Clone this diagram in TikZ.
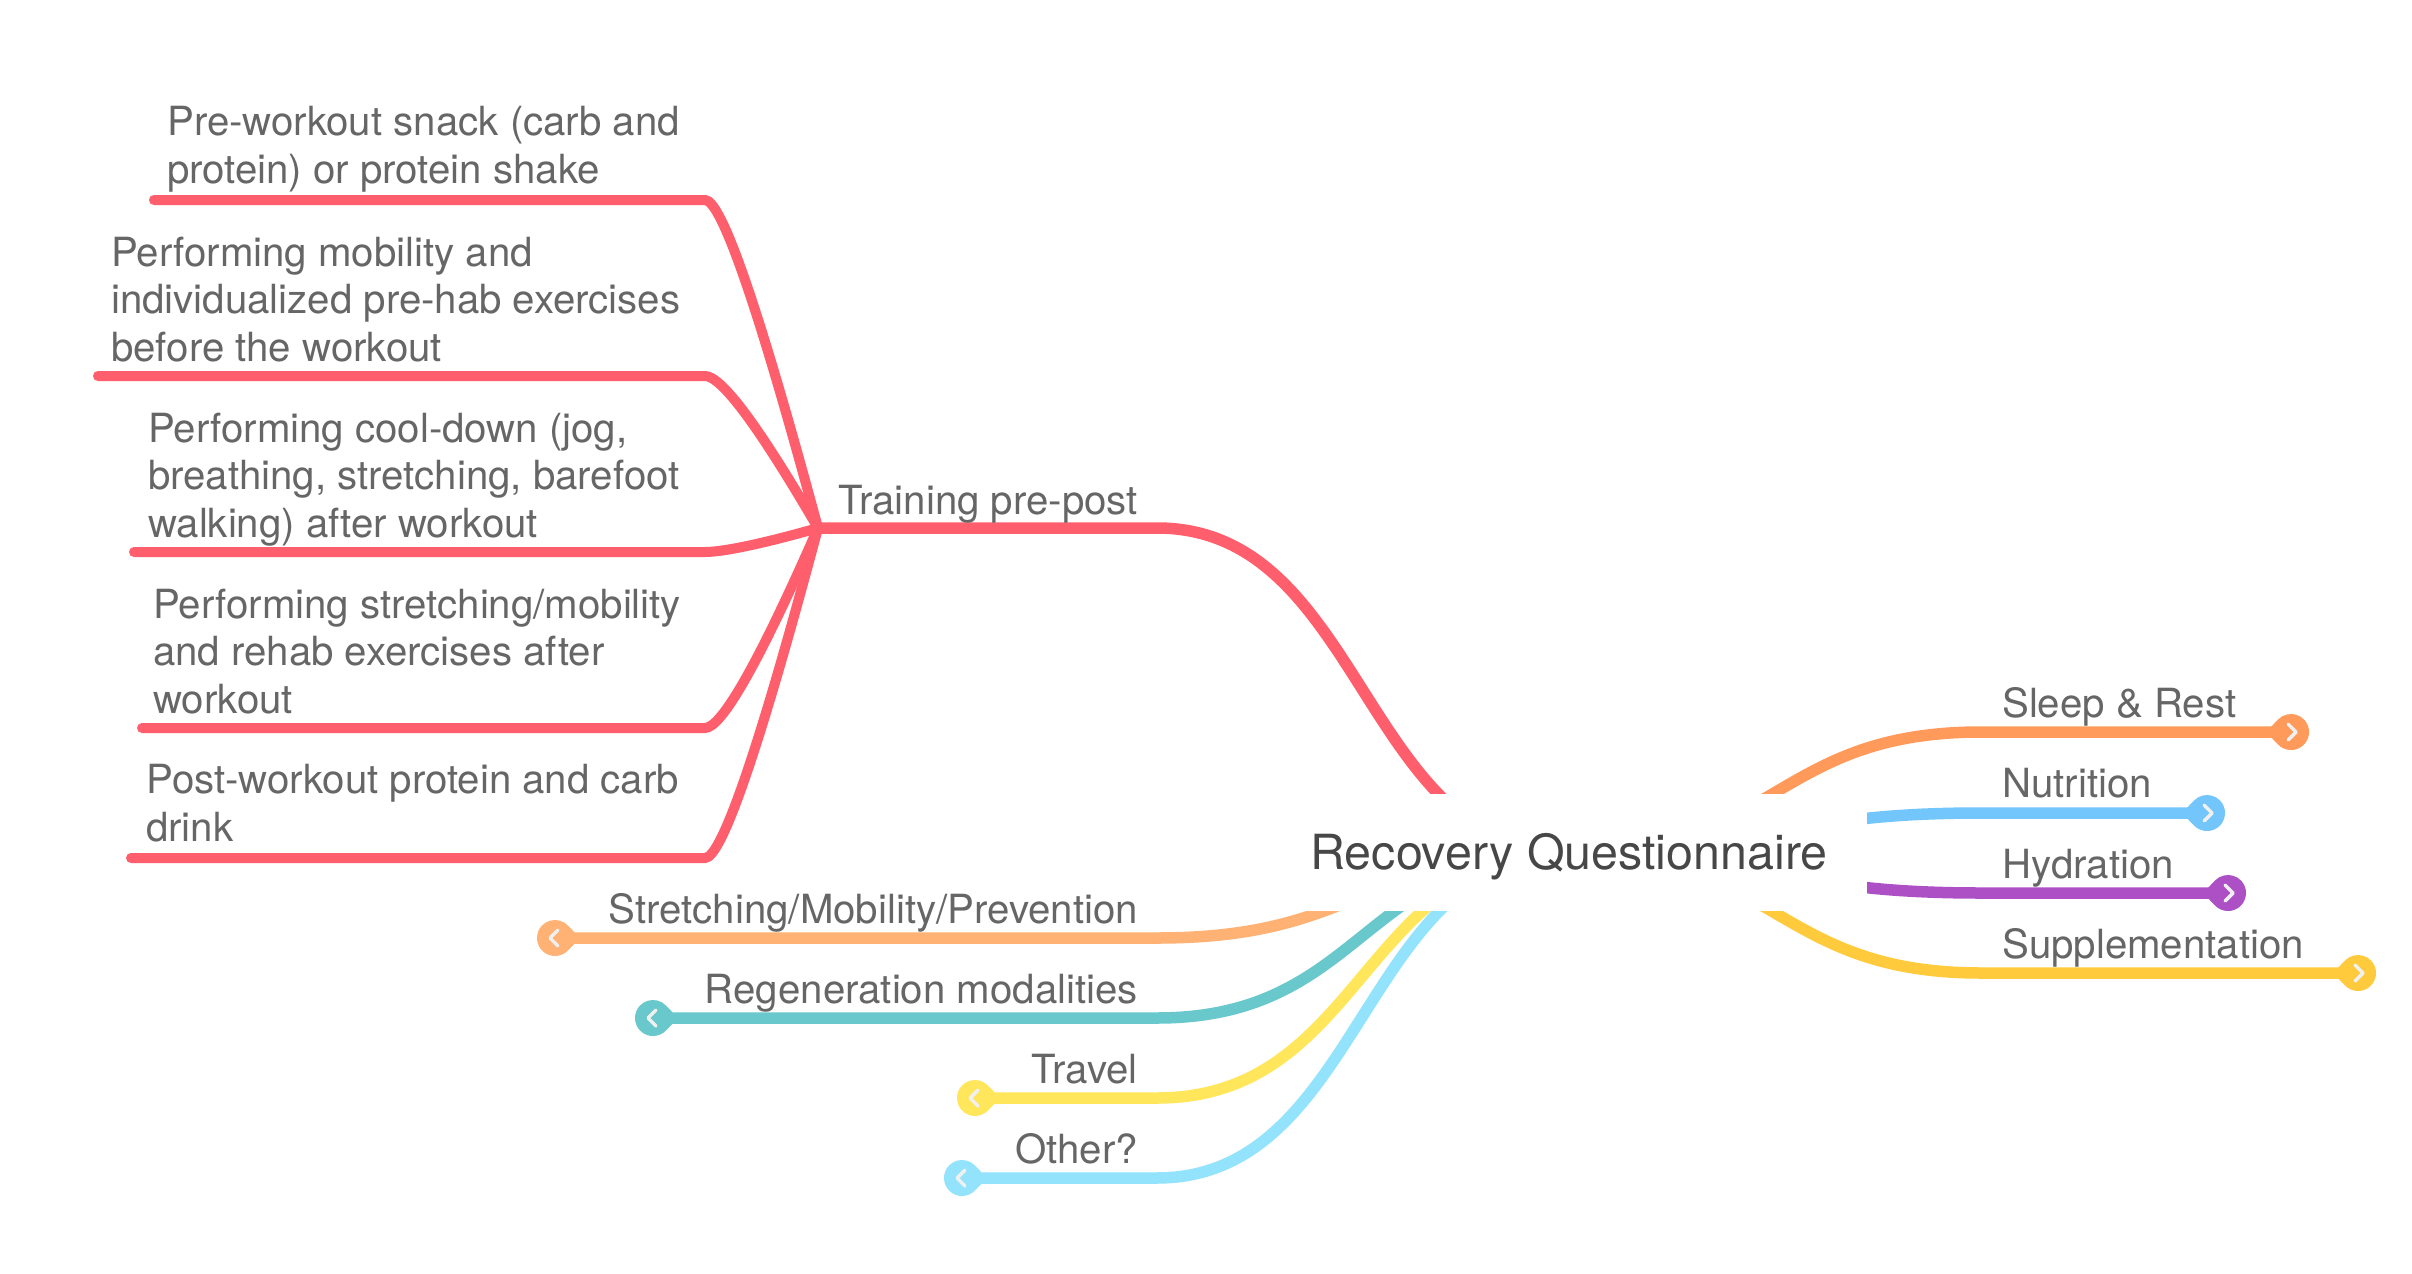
\documentclass[tikz,border=0pt]{standalone}
\usepackage{fontspec}
\setmainfont{TeX Gyre Heros}
\definecolor{cred}{HTML}{FF5E6C}
\definecolor{csleep}{HTML}{FF9A5B}
\definecolor{cnutri}{HTML}{73C6FB}
\definecolor{chydra}{HTML}{AD50C5}
\definecolor{csuppl}{HTML}{FFCB3C}
\definecolor{cstret}{HTML}{FFB273}
\definecolor{cregen}{HTML}{68C8CC}
\definecolor{ctravel}{HTML}{FFE65B}
\definecolor{cother}{HTML}{93E3FD}
\definecolor{labelgray}{HTML}{666666}
\definecolor{titlegray}{HTML}{474747}
\definecolor{chevc}{HTML}{F0F0F0}
\begin{document}
\begin{tikzpicture}[x=1pt,y=-1pt,
  lbl/.style={text=labelgray, font=\fontsize{40.2}{47.5}\selectfont, inner sep=0pt},
  br/.style={line width=11.5pt, line cap=round},
  subbr/.style={line width=10pt, line cap=round, draw=cred},
  chev/.style={draw=chevc, line width=3.5pt, line cap=round, line join=round},
  pics/togR/.style={code={
    \fill[#1] (-25,0) -- (136:18) arc[start angle=136, end angle=-136, radius=18] -- cycle;
    \draw[chev] (-3,-8) -- (5,0) -- (-3,8);
  }},
  pics/togL/.style={code={
    \fill[#1] (25,0) -- (44:18) arc[start angle=44, end angle=316, radius=18] -- cycle;
    \draw[chev] (3,-8) -- (-5,0) -- (3,8);
  }}]
\fill[white] (0,0) rectangle (2412,1274);
\path[use as bounding box] (0,0) rectangle (2412,1274);

% root centre
\coordinate (rootc) at (1569,853);

% ---- main branch coordinates
\coordinate (trainK) at (1157,528);
\coordinate (J) at (818,528);
\coordinate (stretK) at (1157,938);  \coordinate (stretT) at (555,938);
\coordinate (regenK) at (1157,1018); \coordinate (regenT) at (653,1018);
\coordinate (travK) at (1157,1098);  \coordinate (travT) at (975,1098);
\coordinate (othK) at (1157,1178);   \coordinate (othT) at (962,1178);
\coordinate (sleepK) at (1981,732);  \coordinate (sleepT) at (2291,732);
\coordinate (nutK) at (1981,813);    \coordinate (nutT) at (2207,813);
\coordinate (hydK) at (1981,893);    \coordinate (hydT) at (2228,893);
\coordinate (supK) at (1981,973);    \coordinate (supT) at (2358,973);

% ---- sub-branch coordinates
\coordinate (s1K) at (705,200); \coordinate (s1L) at (154,200);
\coordinate (s2K) at (705,376); \coordinate (s2L) at (98,376);
\coordinate (s3K) at (705,552); \coordinate (s3L) at (134,552);
\coordinate (s4K) at (705,728); \coordinate (s4L) at (142,728);
\coordinate (s5K) at (705,858); \coordinate (s5L) at (131,858);

% ---- sub-branches
\draw[subbr] (J) .. controls +(-58.7,-218) and +(16.7,0) .. (s1K) -- (s1L);
\draw[subbr] (J) .. controls +(-58.7,-100.7) and +(16.7,0) .. (s2K) -- (s2L);
\draw[subbr] (J) .. controls +(-58.7,16.7) and +(16.7,0) .. (s3K) -- (s3L);
\draw[subbr] (J) .. controls +(-58.7,134) and +(16.7,0) .. (s4K) -- (s4L);
\draw[subbr] (J) .. controls +(-58.7,220.7) and +(16.7,0) .. (s5K) -- (s5L);

% ---- main branches
\draw[br, draw=cred] (rootc) .. controls +(-206,0) and +(206,0) .. (trainK) -- (J);
\draw[br, draw=cstret] (rootc) .. controls +(-206,0) and +(206,0) .. (stretK) -- (stretT);
\draw[br, draw=cregen] (rootc) .. controls +(-206,0) and +(206,0) .. (regenK) -- (regenT);
\draw[br, draw=ctravel] (rootc) .. controls +(-206,0) and +(206,0) .. (travK) -- (travT);
\draw[br, draw=cother] (rootc) .. controls +(-206,0) and +(206,0) .. (othK) -- (othT);
\draw[br, draw=csleep] (rootc) .. controls +(206,0) and +(-206,0) .. (sleepK) -- (sleepT);
\draw[br, draw=cnutri] (rootc) .. controls +(206,0) and +(-206,0) .. (nutK) -- (nutT);
\draw[br, draw=chydra] (rootc) .. controls +(206,0) and +(-206,0) .. (hydK) -- (hydT);
\draw[br, draw=csuppl] (rootc) .. controls +(206,0) and +(-206,0) .. (supK) -- (supT);

% ---- toggles
\pic (tgSleep) at (sleepT) {togR=csleep};
\pic (tgNut) at (nutT) {togR=cnutri};
\pic (tgHyd) at (hydT) {togR=chydra};
\pic (tgSup) at (supT) {togR=csuppl};
\pic (tgStr) at (stretT) {togL=cstret};
\pic (tgReg) at (regenT) {togL=cregen};
\pic (tgTra) at (travT) {togL=ctravel};
\pic (tgOth) at (othT) {togL=cother};

% ---- root
\node[fill=white, minimum width=596pt, minimum height=117pt, inner sep=0pt,
      text height=34.5pt, text depth=0pt, text=titlegray,
      font=\fontsize{48.4}{58}\selectfont] (root) at (1569,852.5) {Recovery Questionnaire};

% ---- main labels
\node[lbl, anchor=base east] (lTrain) at (1138,514) {Training pre-post};
\node[lbl, anchor=base east] (lStret) at (1138,923) {Stretching/Mobility/Prevention};
\node[lbl, anchor=base east] (lRegen) at (1138,1003) {Regeneration modalities};
\node[lbl, anchor=base east] (lTrav) at (1138,1083) {Travel};
\node[lbl, anchor=base east] (lOth) at (1138,1163) {Other?};
\node[lbl, anchor=base west] (lSleep) at (2002,717) {Sleep \& Rest};
\node[lbl, anchor=base west] (lNut) at (2002,797) {Nutrition};
\node[lbl, anchor=base west] (lHyd) at (2002,878) {Hydration};
\node[lbl, anchor=base west] (lSup) at (2002,958) {Supplementation};

% ---- sub labels
\node[lbl, anchor=base west] (t1) at (167,183) {\begin{tabular}[b]{@{}l@{}}Pre-workout snack (carb and\\protein) or protein shake\end{tabular}};
\node[lbl, anchor=base west] (t2) at (111,361) {\begin{tabular}[b]{@{}l@{}}Performing mobility and\\individualized pre-hab exercises\\before the workout\end{tabular}};
\node[lbl, anchor=base west] (t3) at (148,537) {\begin{tabular}[b]{@{}l@{}}Performing cool-down (jog,\\breathing, stretching, barefoot\\walking) after workout\end{tabular}};
\node[lbl, anchor=base west] (t4) at (153,713) {\begin{tabular}[b]{@{}l@{}}Performing stretching/mobility\\and rehab exercises after\\workout\end{tabular}};
\node[lbl, anchor=base west] (t5) at (146,841) {\begin{tabular}[b]{@{}l@{}}Post-workout protein and carb\\drink\end{tabular}};
\end{tikzpicture}
\end{document}
